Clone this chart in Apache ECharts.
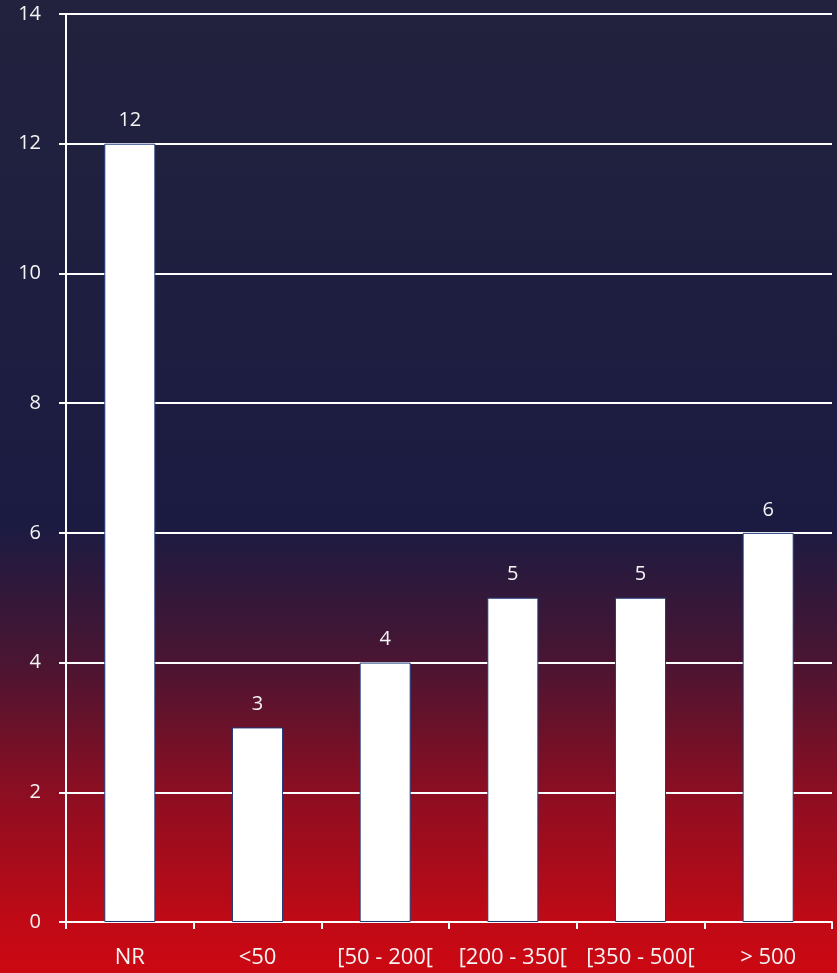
<!DOCTYPE html>
<html>
<head>
<meta charset="utf-8">
<script src="https://cdn.jsdelivr.net/npm/echarts@6/dist/echarts.min.js"></script>
<style>
html,body{margin:0;padding:0;}
#chart{width:837px;height:973px;}
</style>
</head>
<body>
<div id="chart"></div>
<script>
const categories = ['NR', '<50', '[50 - 200[', '[200 - 350[', '[350 - 500[', '> 500'];
const values = [12, 3, 4, 5, 5, 6];
const yMin = 0, yMax = 14, yInterval = 2;

const chart = echarts.init(document.getElementById('chart'));
const font = '"Open Sans", Lato, sans-serif';
chart.setOption({
  animation: false,
  backgroundColor: {
    type: 'linear', x: 0, y: 0, x2: 0, y2: 1,
    colorStops: [
      {offset: 0, color: '#22223e'},
      {offset: 0.54, color: '#1b1b42'},
      {offset: 0.68, color: '#4a1532'},
      {offset: 0.81, color: '#8a0e22'},
      {offset: 0.945, color: '#bf0a16'},
      {offset: 1, color: '#cc0812'}
    ]
  },
  grid: {left: 66, right: 5, top: 14, bottom: 51, containLabel: false},
  xAxis: {
    type: 'category',
    data: categories,
    axisLine: {lineStyle: {color: '#ffffff', width: 2}},
    axisTick: {show: true, length: 7, alignWithLabel: false, lineStyle: {color: '#ffffff', width: 2}},
    axisLabel: {color: '#f4f4f4', fontSize: 22, fontFamily: font, margin: 25, interval: 0}
  },
  yAxis: {
    type: 'value',
    min: yMin, max: yMax, interval: yInterval,
    axisLine: {show: true, lineStyle: {color: '#ffffff', width: 2}},
    axisTick: {show: true, length: 7, lineStyle: {color: '#ffffff', width: 2}},
    axisLabel: {color: '#f4f4f4', fontSize: 20, fontFamily: font, margin: 25},
    splitLine: {show: true, lineStyle: {color: '#ffffff', width: 2}}
  },
  series: [{
    type: 'bar',
    data: values,
    barWidth: '40%',
    itemStyle: {color: '#ffffff', borderColor: '#1f3a7a', borderWidth: 1},
    label: {show: true, position: 'top', distance: 13, color: '#f4f4f4', fontSize: 20, fontFamily: font}
  }]
});
</script>
</body>
</html>
